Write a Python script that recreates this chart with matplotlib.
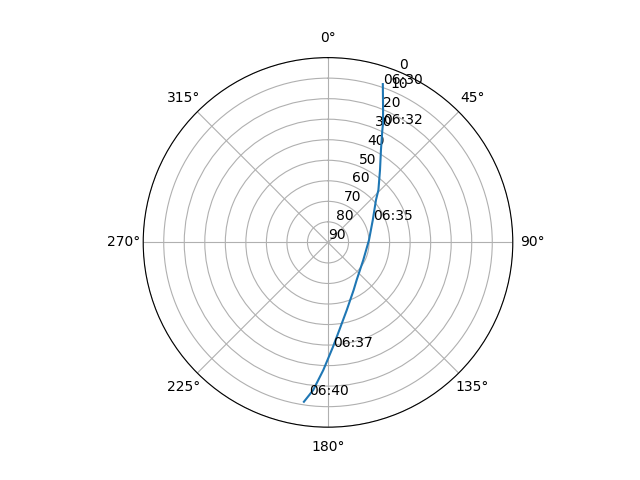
import numpy as np
import matplotlib
matplotlib.use("Agg")
import matplotlib.pyplot as plt

# Satellite pass: azimuth (deg, clockwise from north) and elevation (deg)
az_deg = [19.1, 22.6, 24.9, 25.8, 29.8, 35.7, 43.9, 48.5, 63.4, 86.7,
          116.5, 142.6, 151.6, 164.5, 172.6, 177.3, 182.1, 185.7, 187.0, 188.6]
el_deg = [8.4, 20.2, 26.4, 29.2, 38.1, 46.6, 54.6, 58.8, 65.6, 70.0,
          70.8, 67.0, 63.7, 55.8, 47.0, 39.0, 27.8, 17.8, 15.1, 11.5]

# Time labels attached to points of the track
label_idx = [0, 2, 8, 15, 18]
label_txt = ["06:30", "06:32", "06:35", "06:37", "06:40"]

r_ticks = list(range(0, 91, 10))

fig = plt.figure(figsize=(6.4, 4.8), dpi=100)
ax = fig.add_subplot(projection="polar")
ax.set_theta_zero_location("N")
ax.set_theta_direction(-1)

theta = np.radians(az_deg)
ax.plot(theta, el_deg)

for i, t in zip(label_idx, label_txt):
    ax.text(theta[i], el_deg[i], t)

ax.set_ylim(90, 0)
ax.set_yticks(r_ticks)

fig.savefig("out.png", dpi=100)
